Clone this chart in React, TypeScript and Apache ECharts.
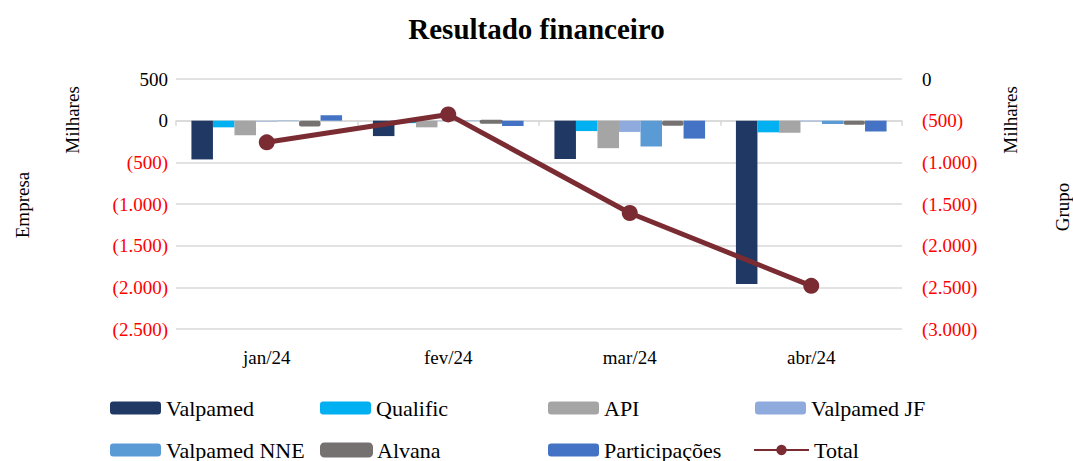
import React, { useEffect, useRef } from "react";
import * as echarts from "echarts";

const categories = ["jan/24", "fev/24", "mar/24", "abr/24"];
const valpamed = [-465, -185, -460, -1960];
const qualific = [-80, -30, -125, -140];
const api = [-175, -80, -330, -145];
const valpamedJF = [-10, -5, -135, -10];
const valpamedNNE = [-5, -5, -310, -40];
const alvana = [-70, -25, -62, -50];
const participacoes = [65, -65, -215, -130];
const total = [-760, -425, -1608, -2482];

const FONT = "Liberation Serif";
const RED = "#ff0000";

const fmt = (v: number) => {
  const a = Math.abs(v);
  const s = a.toString().replace(/\B(?=(\d{3})+(?!\d))/g, ".");
  return v < 0 ? `(${s})` : s;
};

export default function App() {
  const ref = useRef<HTMLDivElement>(null);
  useEffect(() => {
    const chart = echarts.init(ref.current!, null, { renderer: "svg" });
    const barSeries = [
      { name: "Valpamed", data: valpamed, color: "#1f3864" },
      { name: "Qualific", data: qualific, color: "#00b0f0" },
      { name: "API", data: api, color: "#a5a5a5" },
      { name: "Valpamed JF", data: valpamedJF, color: "#8faadc" },
      { name: "Valpamed NNE", data: valpamedNNE, color: "#5b9bd5" },
      { name: "Alvana", data: alvana, color: "#767171", border: true },
      { name: "Participações", data: participacoes, color: "#4472c4" },
    ];
    const legendPos: [string, number, number][] = [
      ["Valpamed", 110, 397],
      ["Qualific", 320, 397],
      ["API", 548, 397],
      ["Valpamed JF", 755, 397],
      ["Valpamed NNE", 110, 439],
      ["Alvana", 320, 439],
      ["Participações", 548, 439],
      ["Total", 753, 439],
    ];
    const axisText = { fontFamily: FONT, fontSize: 19, color: "#000" };
    chart.setOption({
      animation: false,
      title: {
        text: "Resultado financeiro",
        left: "center",
        top: 9,
        textStyle: { fontFamily: FONT, fontSize: 29, fontWeight: "bold", color: "#000" },
      },
      grid: { left: 176, right: 171, top: 79, bottom: 132, containLabel: false },
      legend: legendPos.map(([name, x, y]) => ({
        data: [name],
        left: x,
        top: y,
        padding: 0,
        itemWidth: name === "Total" ? 55 : 51,
        itemHeight: 13,
        formatter: "{t|{name}}",
        textStyle: {
          fontFamily: FONT,
          fontSize: 22,
          color: "#000",
          rich: { t: { fontFamily: FONT, fontSize: 22, color: "#000" } },
        },
        selectedMode: false,
      })),
      xAxis: [
        {
          type: "category",
          data: categories,
          axisLine: { onZero: true, lineStyle: { color: "#d9d9d9", width: 1.5 } },
          axisTick: { show: true, length: 5, lineStyle: { color: "#d9d9d9", width: 1.5 } },
          axisLabel: { show: false },
        },
        {
          type: "category",
          data: categories,
          position: "bottom",
          axisLine: { show: false, onZero: false },
          axisTick: { show: false },
          axisLabel: { ...axisText, margin: 19 },
        },
      ],
      yAxis: [
        {
          type: "value",
          min: -2500,
          max: 500,
          interval: 500,
          position: "left",
          axisLine: { show: false },
          axisTick: { show: false },
          splitLine: { lineStyle: { color: "#d9d9d9", width: 1.5 } },
          axisLabel: {
            ...axisText,
            margin: 8,
            formatter: (v: number) => fmt(v),
            color: (v: any) => (Number(v) < 0 ? RED : "#000"),
          },
        },
        {
          type: "value",
          min: -3000,
          max: 0,
          interval: 500,
          position: "right",
          axisLine: { show: false },
          axisTick: { show: false },
          splitLine: { show: false },
          axisLabel: {
            ...axisText,
            margin: 20,
            formatter: (v: number) => fmt(v),
            color: (v: any) => (Number(v) < 0 ? RED : "#000"),
          },
        },
      ],
      graphic: [
        { type: "text", x: 72, y: 120, rotation: Math.PI / 2, style: { text: "Milhares", fontFamily: FONT, fontSize: 19, fill: "#000", align: "center", verticalAlign: "middle" } },
        { type: "text", x: 1010, y: 120, rotation: Math.PI / 2, style: { text: "Milhares", fontFamily: FONT, fontSize: 19, fill: "#000", align: "center", verticalAlign: "middle" } },
        { type: "text", x: 22, y: 205, rotation: Math.PI / 2, style: { text: "Empresa", fontFamily: FONT, fontSize: 19, fill: "#000", align: "center", verticalAlign: "middle" } },
        { type: "text", x: 1062, y: 207, rotation: Math.PI / 2, style: { text: "Grupo", fontFamily: FONT, fontSize: 19, fill: "#000", align: "center", verticalAlign: "middle" } },
      ],
      series: [
        ...barSeries.map((s) => ({
          name: s.name,
          type: "bar",
          xAxisIndex: 0,
          yAxisIndex: 0,
          data: s.data,
          barGap: "0%",
          barCategoryGap: "17%",
          itemStyle: s.border
            ? { color: s.color, borderColor: s.color, borderWidth: 4, borderJoin: "round" }
            : { color: s.color },
        })),
        {
          name: "Total",
          type: "line",
          xAxisIndex: 0,
          yAxisIndex: 1,
          data: total,
          symbol: "circle",
          symbolSize: 16,
          z: 5,
          lineStyle: { color: "#7b2c33", width: 5 },
          itemStyle: { color: "#7b2c33" },
        },
      ],
    });
    return () => chart.dispose();
  }, []);
  return <div ref={ref} style={{ width: 1073, height: 461, position: "absolute", left: 0, top: 0 }} />;
}
